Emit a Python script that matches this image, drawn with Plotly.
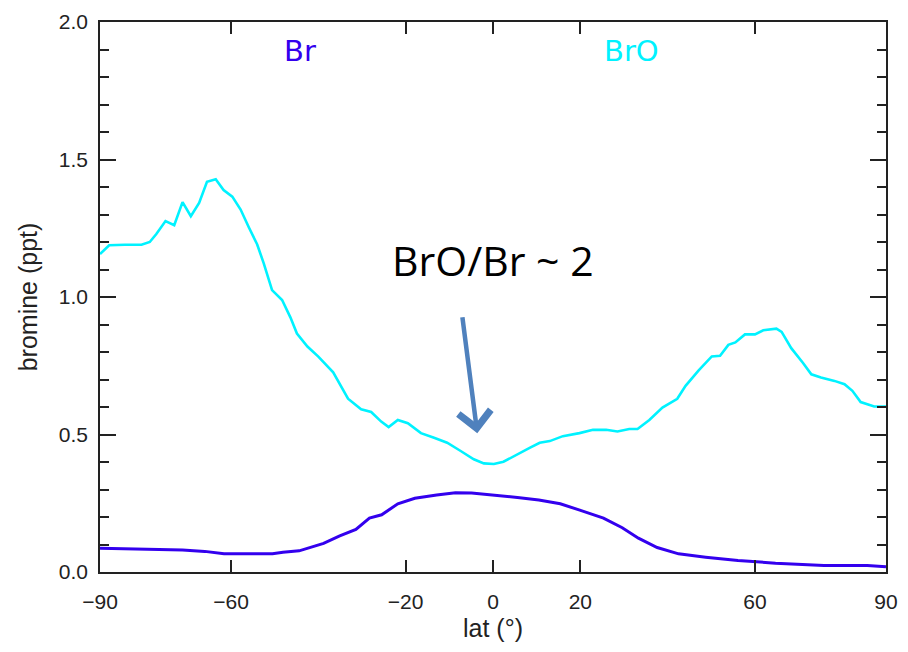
import plotly.graph_objects as go

# BrO (cyan) latitude profile
bro_lat = [-90, -87.9, -84.3, -80.5, -78.6, -77.1, -75, -73, -71.1, -69.2, -67.3, -65.5, -63.5,
           -61.7, -59.7, -57.8, -55.9, -54, -52.5, -50.6, -48.3, -46.4, -44.9, -42.5, -40,
           -36.6, -33.2, -30.2, -27.9, -25.6, -23.9, -21.8, -19.5, -16.5, -13.5, -10.5, -7.4,
           -4.4, -2.1, 0.2, 2.4, 5.5, 8.5, 10.7, 13, 16, 19.8, 22.9, 25.9, 28.5, 31.2, 33.1,
           35.8, 38.8, 42.2, 44.1, 47.1, 50.1, 52, 53.9, 55.5, 57.7, 60, 61.9, 64.9, 66.1,
           68.3, 71, 72.9, 75.1, 78.2, 80.5, 82.3, 84.2, 87.3, 90]
bro_val = [1.156, 1.188, 1.19, 1.19, 1.20, 1.229, 1.276, 1.261, 1.345, 1.294, 1.342, 1.419, 1.428,
           1.389, 1.365, 1.318, 1.253, 1.191, 1.122, 1.025, 0.989, 0.926, 0.867, 0.82, 0.783,
           0.726, 0.63, 0.592, 0.582, 0.547, 0.527, 0.553, 0.541, 0.505, 0.488, 0.470, 0.44,
           0.41, 0.395, 0.393, 0.401, 0.428, 0.452, 0.470, 0.476, 0.494, 0.505, 0.517, 0.517,
           0.511, 0.52, 0.52, 0.553, 0.598, 0.63, 0.677, 0.733, 0.784, 0.786, 0.826, 0.835,
           0.864, 0.864, 0.879, 0.885, 0.873, 0.814, 0.76, 0.719, 0.707, 0.695, 0.683, 0.659,
           0.618, 0.602, 0.602]

# Br (blue) latitude profile
br_lat = [-90, -80.8, -71.1, -66, -61.6, -50.5, -48.1, -44.4, -42.5, -38.8, -35.1, -31.4, -28.3,
          -25.5, -21.8, -17.9, -12.9, -8.6, -4.9, 0, 5.6, 10.5, 15.4, 19.7, 25.3, 29.6, 33.3,
          37.6, 42.5, 48.7, 56.1, 64.7, 75.8, 85.7, 90]
br_val = [0.086, 0.084, 0.080, 0.075, 0.066, 0.066, 0.072, 0.077, 0.087, 0.104, 0.131, 0.155,
          0.196, 0.208, 0.248, 0.268, 0.280, 0.288, 0.287, 0.280, 0.271, 0.262, 0.248, 0.226,
          0.196, 0.161, 0.123, 0.089, 0.066, 0.054, 0.042, 0.032, 0.024, 0.024, 0.019]

x_ticks = [-90, -60, -20, 0, 20, 60, 90]
y_ticks = [0.0, 0.5, 1.0, 1.5, 2.0]
y_tick_text = ["0.0", "0.5", "1.0", "1.5", "2.0"]

BR_COLOR = "#3300ee"
BRO_COLOR = "#00f2ff"
tick_font = dict(family="Liberation Sans", size=21, color="#222222")
title_font = dict(family="Liberation Sans", size=25, color="#222222")

fig = go.Figure()
fig.add_trace(go.Scatter(x=bro_lat, y=bro_val, mode="lines", name="BrO",
                         line=dict(color=BRO_COLOR, width=2.6)))
fig.add_trace(go.Scatter(x=br_lat, y=br_val, mode="lines", name="Br",
                         line=dict(color=BR_COLOR, width=3)))

fig.update_layout(
    width=908, height=652,
    margin=dict(l=100, r=16, t=10, b=80),
    paper_bgcolor="white", plot_bgcolor="white",
    showlegend=False,
    xaxis=dict(range=[-90, 90], tickvals=x_ticks,
               ticktext=[("\u2212" + str(-v)) if v < 0 else str(v) for v in x_ticks],
               ticks="inside", ticklen=12, tickwidth=1.5, tickcolor="#222",
               showline=True, linecolor="#222", linewidth=1.5, mirror="ticks",
               showgrid=False, zeroline=False, tickfont=tick_font, ticklabelstandoff=10,
               title=dict(text="lat (\u00b0)", font=title_font, standoff=8)),
    yaxis=dict(range=[0, 2], tickvals=y_ticks, ticktext=y_tick_text,
               ticks="inside", ticklen=16, tickwidth=1.5, tickcolor="#222",
               showline=True, linecolor="#222", linewidth=1.5, mirror="ticks",
               showgrid=False, zeroline=False, tickfont=tick_font, ticklabelstandoff=6,
               minor=dict(ticks="inside", dtick=0.1, ticklen=9, tickwidth=1.5,
                          tickcolor="#222", showgrid=False),
               title=dict(text="bromine (ppt)", font=title_font, standoff=14)),
)

label_font = dict(family="DejaVu Sans", size=29)
fig.add_annotation(x=-44.1, y=1.895, text="Br", showarrow=False,
                   font=dict(label_font, color=BR_COLOR))
fig.add_annotation(x=31.8, y=1.895, text="BrO", showarrow=False,
                   font=dict(label_font, color=BRO_COLOR))

fig.add_annotation(x=0, y=1.135, text="BrO/Br ~ 2", showarrow=False,
                   font=dict(family="Open Sans", size=41, color="#000000"))
fig.add_annotation(x=-3.6, y=0.505, ax=-7.05, ay=0.932, axref="x", ayref="y",
                   text="", showarrow=True, arrowhead=4, arrowsize=1.4, arrowwidth=4.5,
                   arrowcolor="#4f81bd", standoff=0)

fig.write_html("out.html")
